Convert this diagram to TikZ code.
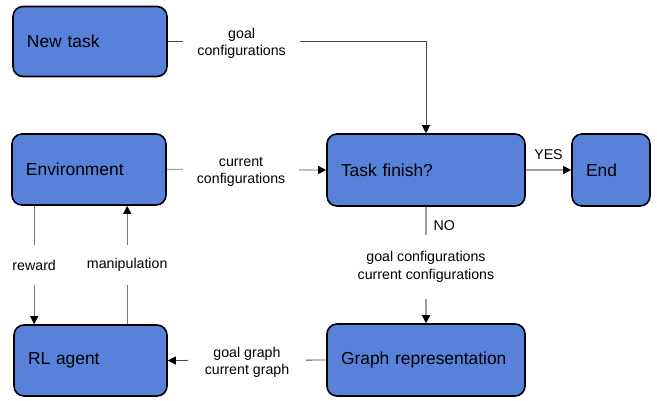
\documentclass[tikz,border=0pt]{standalone}
\usepackage{fontspec}
\setmainfont{Liberation Sans}
\usetikzlibrary{arrows.meta}
\definecolor{boxblue}{HTML}{5881DA}
\definecolor{lnlight}{HTML}{A0A0A0}
\definecolor{lnmid}{HTML}{777777}
\definecolor{lndark}{HTML}{4A4A4A}
\begin{document}
\begin{tikzpicture}[x=1pt,y=-1pt,
  box/.style={draw=black, line width=1.6pt, fill=boxblue, rounded corners=10pt,
    inner xsep=14pt, inner ysep=0pt, align=left, anchor=center,
    font=\fontsize{17.4}{20}\selectfont},
  lbl/.style={fill=white, font=\fontsize{14.2}{17.6}\selectfont, align=center, inner sep=0pt},
  twoline/.style={lbl, yshift=-2pt},
  tip/.style={-{Triangle[length=8pt,width=8pt,color=black]}},
  light/.style={draw=lnlight, line width=1.3pt},
  mid/.style={draw=lnmid, line width=1pt},
  dark/.style={draw=lndark, line width=0.9pt}]
\useasboundingbox (0,0) rectangle (657,400);

% process boxes
\node[box, text width=126pt, minimum height=70pt] (newtask) at (90,41.5) {New task};
\node[box, text width=126pt, minimum height=71pt] (env) at (89,169.5) {Environment};
\node[box, text width=125pt, minimum height=71pt] (rl) at (90.5,360.5) {RL agent};
\node[box, text width=170pt, minimum height=72pt] (task) at (426,170) {Task finish?};
\node[box, text width=50pt, minimum height=72pt] (end) at (611,170) {End};
\node[box, text width=170pt, minimum height=72pt] (graph) at (426,360) {Graph representation};

% new task -> decision
\draw[dark, tip] (newtask.east)
  -- node[twoline, pos=0.286, inner xsep=14pt] {goal\\configurations} (newtask.east -| task.north)
  -- (task.north);

% environment -> decision
\draw[light, tip] (env.east)
  -- node[twoline, pos=0.466, inner xsep=14pt] {current\\configurations} (task.west);

% decision -> end
\draw[light, tip] (task.east)
  -- node[lbl, fill=none, above=10pt] {YES} (end.west);

% decision -> graph representation
\draw[light, tip] (task.south)
  node[lbl, fill=none, anchor=base west, xshift=7pt, yshift=-24pt] {NO}
  -- node[twoline, pos=0.5, inner ysep=17pt, inner xsep=2pt] {goal configurations\\current configurations} (graph.north);

% graph representation -> agent
\draw[dark, tip] (graph.west)
  -- node[twoline, pos=0.5, inner xsep=17pt] {goal graph\\current graph} (rl.east);

% environment <-> agent
\draw[mid, tip] ([xshift=23pt]env.south west)
  -- node[lbl, pos=0.5, inner ysep=15pt, inner xsep=2pt] {reward} ([xshift=21pt]rl.north west);
\draw[mid, tip] ([xshift=114pt]rl.north west)
  -- node[lbl, pos=0.5, inner ysep=13.5pt, inner xsep=2pt] {manipulation} ([xshift=116pt]env.south west);
\end{tikzpicture}
\end{document}
